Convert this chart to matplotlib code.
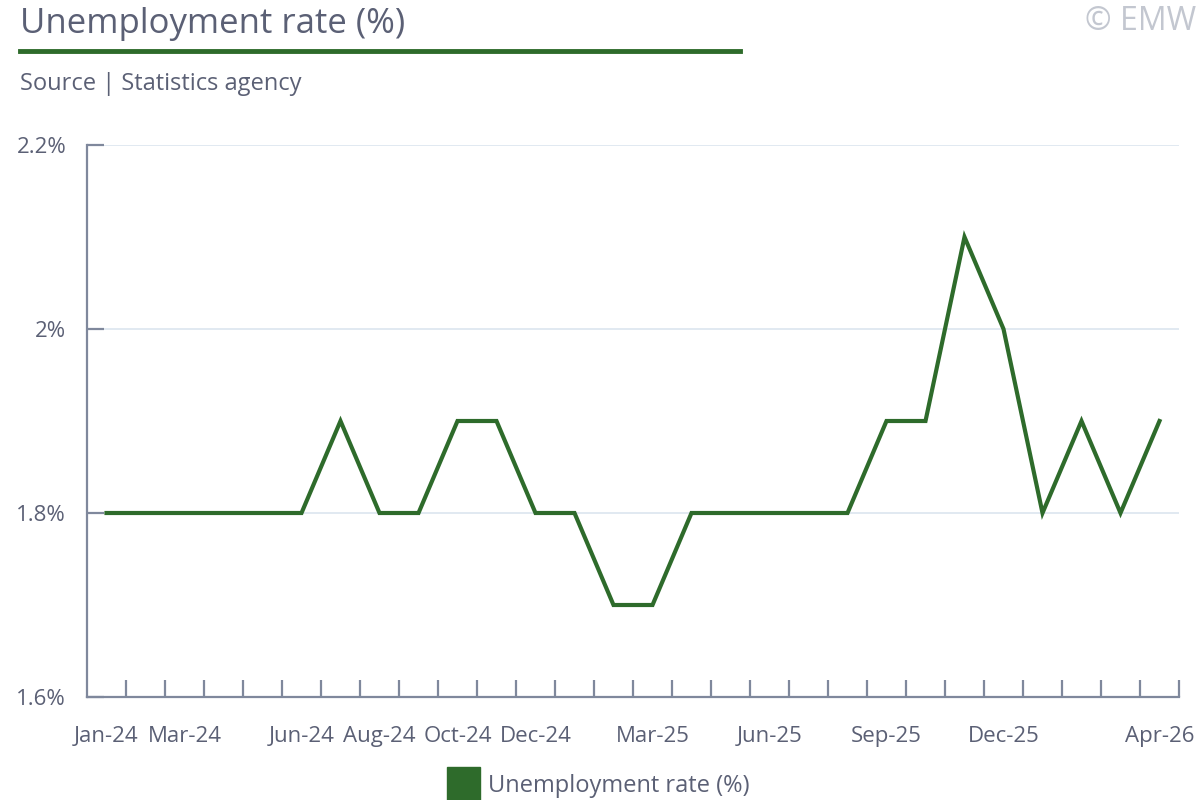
import matplotlib
matplotlib.use("Agg")
import matplotlib.pyplot as plt
from matplotlib.patches import Rectangle
from matplotlib.lines import Line2D

plt.rcParams['font.family'] = ['Open Sans', 'DejaVu Sans']

months = ["Jan-24", "Feb-24", "Mar-24", "Apr-24", "May-24", "Jun-24", "Jul-24",
          "Aug-24", "Sep-24", "Oct-24", "Nov-24", "Dec-24", "Jan-25", "Feb-25",
          "Mar-25", "Apr-25", "May-25", "Jun-25", "Jul-25", "Aug-25", "Sep-25",
          "Oct-25", "Nov-25", "Dec-25", "Jan-26", "Feb-26", "Mar-26", "Apr-26"]
rate = [1.8, 1.8, 1.8, 1.8, 1.8, 1.8, 1.9, 1.8, 1.8, 1.9, 1.9, 1.8, 1.8, 1.7,
        1.7, 1.8, 1.8, 1.8, 1.8, 1.8, 1.9, 1.9, 2.1, 2.0, 1.8, 1.9, 1.8, 1.9]
shown_labels = ["Jan-24", "Mar-24", "Jun-24", "Aug-24", "Oct-24", "Dec-24",
                "Mar-25", "Jun-25", "Sep-25", "Dec-25", "Apr-26"]
y_ticks = [1.6, 1.8, 2.0, 2.2]
y_labels = ["1.6%", "1.8%", "2%", "2.2%"]

GREEN = "#2e6b2b"
TEXT = "#5b6075"
AXIS = "#7f889c"
GRID = "#dce5ef"

fig = plt.figure(figsize=(12, 8), dpi=100)
ax = fig.add_axes([87 / 1200, 1 - 697 / 800, (1179 - 87) / 1200, (697 - 145) / 800])

x = list(range(len(months)))
ax.plot(x, rate, color=GREEN, linewidth=3, solid_joinstyle='miter', zorder=3)

ax.set_xlim(-0.5, len(months) - 0.5)
ax.set_ylim(1.6, 2.2)

ax.set_yticks(y_ticks)
ax.set_yticklabels(y_labels)
ax.grid(axis='y', color=GRID, linewidth=1.2)
ax.set_axisbelow(True)

pos = [months.index(m) for m in shown_labels]
ax.set_xticks(pos)
ax.set_xticklabels(shown_labels)
ax.set_xticks([i + 0.5 for i in range(len(months))], minor=True)
ax.tick_params(axis='x', which='major', length=0, pad=21, labelsize=16, labelcolor=TEXT)
ax.tick_params(axis='x', which='minor', direction='in', length=12, width=1.6, color=AXIS)
ax.tick_params(axis='y', direction='in', length=12, width=1.6, color=AXIS,
               pad=15, labelsize=16, labelcolor=TEXT)

for side in ['top', 'right']:
    ax.spines[side].set_visible(False)
for side in ['left', 'bottom']:
    ax.spines[side].set_color(AXIS)
    ax.spines[side].set_linewidth(1.6)

# header
fig.text(20 / 1200, 1 - 24 / 800, "Unemployment rate (%)", fontsize=25, color=TEXT,
         va='center', ha='left')
fig.add_artist(Line2D([20 / 1200, 740 / 1200], [1 - 51 / 800, 1 - 51 / 800],
                      color=GREEN, linewidth=3.5))
fig.text(20 / 1200, 1 - 84 / 800, "Source | Statistics agency", fontsize=17, color=TEXT,
         va='center', ha='left')
fig.text(1196 / 1200, 1 - 21 / 800, "\u00a9 EMW", fontsize=23, color="#c3c7d0",
         va='center', ha='right')

# legend
fig.add_artist(Rectangle((447 / 1200, 1 - 800 / 800), 33 / 1200, 33 / 800,
                         transform=fig.transFigure, color=GREEN))
fig.text(488 / 1200, 1 - 786 / 800, "Unemployment rate (%)", fontsize=17, color=TEXT,
         va='center', ha='left')

fig.savefig("out.png", dpi=100)
